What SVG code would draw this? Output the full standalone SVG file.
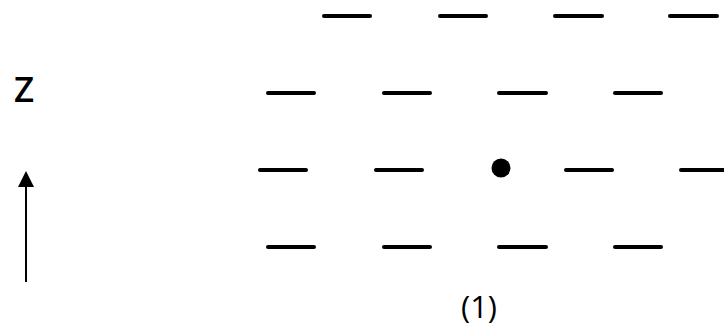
<svg xmlns="http://www.w3.org/2000/svg" width="724" height="326" viewBox="0 0 724 326">
<style>
.d{stroke:#000;stroke-width:4;stroke-linecap:round;fill:none}
.t{font-family:"Open Sans","DejaVu Sans",sans-serif;fill:#000}
</style>
<rect width="724" height="326" fill="#fff"/>
<g id="row1">
<line class="d" x1="324" y1="16" x2="370" y2="16"/>
<line class="d" x1="440" y1="16" x2="486" y2="16"/>
<line class="d" x1="555" y1="16" x2="602" y2="16"/>
<line class="d" x1="670" y1="16" x2="717" y2="16"/>
</g>
<g id="row2">
<line class="d" x1="268" y1="93" x2="314" y2="93"/>
<line class="d" x1="384" y1="93" x2="430" y2="93"/>
<line class="d" x1="499" y1="93" x2="546" y2="93"/>
<line class="d" x1="615" y1="93" x2="661" y2="93"/>
</g>
<g id="row3">
<line class="d" x1="260" y1="170" x2="306" y2="170"/>
<line class="d" x1="376" y1="170" x2="422" y2="170"/>
<circle cx="501" cy="168" r="9.5" fill="#000"/>
<line class="d" x1="566" y1="170" x2="612" y2="170"/>
<line class="d" x1="681" y1="170" x2="727" y2="170"/>
</g>
<g id="row4">
<line class="d" x1="268" y1="247" x2="314" y2="247"/>
<line class="d" x1="384" y1="247" x2="430" y2="247"/>
<line class="d" x1="499" y1="247" x2="546" y2="247"/>
<line class="d" x1="615" y1="247" x2="661" y2="247"/>
</g>
<g id="axis">
<line x1="26" y1="282" x2="26" y2="187" stroke="#000" stroke-width="2"/>
<path d="M26,171 L34,187 L18,187 Z" fill="#000"/>
<text class="t" x="24" y="102" font-size="35" font-weight="600" text-anchor="middle">Z</text>
</g>
<g id="label">
<text class="t" x="479" y="318" font-size="31" text-anchor="middle">(1)</text>
</g>
</svg>
